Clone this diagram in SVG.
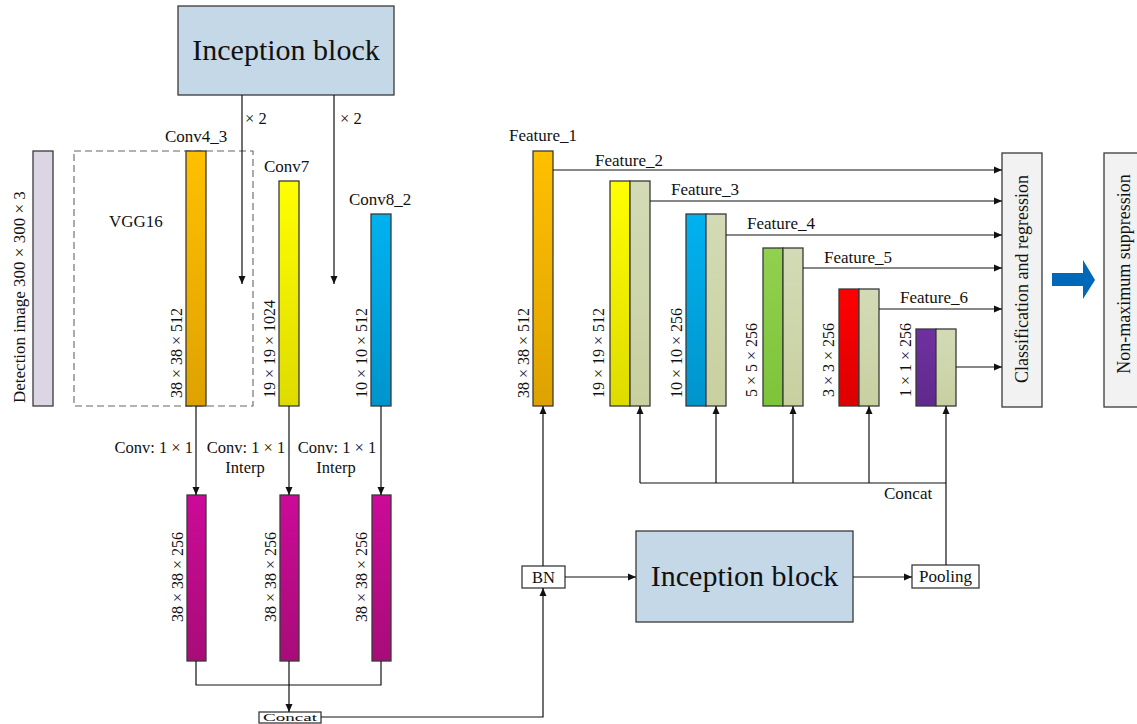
<svg xmlns="http://www.w3.org/2000/svg" width="1137" height="724" viewBox="0 0 1137 724">
<style>
text{font-family:"Liberation Serif","Times New Roman",serif;fill:#111}
.lbl{font-size:17px}
.sm{font-size:16.5px}
.rot{font-size:16px}
.big{font-size:30px}
.box{stroke:#3a3a3a;stroke-width:1.3}
.ln{stroke:#111;stroke-width:1.2;fill:none}
.arr{stroke:#111;stroke-width:1.2;fill:none;marker-end:url(#ah)}
</style>
<defs>
<marker id="ah" markerUnits="userSpaceOnUse" markerWidth="8" markerHeight="8" refX="8" refY="4" orient="auto">
<path d="M0,0.5 L8,4 L0,7.5 z" fill="#111"/>
</marker>
<linearGradient id="gOr" x1="0" y1="0" x2="0" y2="1"><stop offset="0" stop-color="#ffc000"/><stop offset="1" stop-color="#dea200"/></linearGradient>
<linearGradient id="gYe" x1="0" y1="0" x2="0" y2="1"><stop offset="0" stop-color="#ffff00"/><stop offset="1" stop-color="#dedb00"/></linearGradient>
<linearGradient id="gBl" x1="0" y1="0" x2="0" y2="1"><stop offset="0" stop-color="#00b2f0"/><stop offset="1" stop-color="#0094cc"/></linearGradient>
<linearGradient id="gMa" x1="0" y1="0" x2="0" y2="1"><stop offset="0" stop-color="#cc0a99"/><stop offset="1" stop-color="#a80c78"/></linearGradient>
<linearGradient id="gGr" x1="0" y1="0" x2="0" y2="1"><stop offset="0" stop-color="#92d050"/><stop offset="1" stop-color="#7cc43a"/></linearGradient>
<linearGradient id="gRe" x1="0" y1="0" x2="0" y2="1"><stop offset="0" stop-color="#ff0000"/><stop offset="1" stop-color="#dc0000"/></linearGradient>
<linearGradient id="gPu" x1="0" y1="0" x2="0" y2="1"><stop offset="0" stop-color="#7030a0"/><stop offset="1" stop-color="#5f2a8c"/></linearGradient>
<linearGradient id="gSa" x1="0" y1="0" x2="0" y2="1"><stop offset="0" stop-color="#d3dbb6"/><stop offset="1" stop-color="#c8d0a0"/></linearGradient>
</defs>
<rect width="1137" height="724" fill="#ffffff"/>

<g id="inception-top">
<rect class="box" x="178" y="6" width="216" height="89" fill="#c5d8e8"/>
<text class="big" x="286" y="60" text-anchor="middle">Inception block</text>
</g>

<g id="detection-image">
<rect class="box" x="33" y="151" width="20" height="255" fill="#dcd6e4"/>
<text x="25" y="403" font-size="17" transform="rotate(-90 25 403)">Detection image 300 × 300 × 3</text>
</g>

<g id="vgg16">
<rect x="74" y="151" width="179" height="255" fill="none" stroke="#666" stroke-width="1.1" stroke-dasharray="7,4"/>
<text class="lbl" x="109" y="227">VGG16</text>
</g>

<g id="conv4_3">
<text class="lbl" x="165" y="142">Conv4_3</text>
<rect class="box" x="186" y="151" width="20" height="255" fill="url(#gOr)"/>
<text class="rot" x="182" y="398" transform="rotate(-90 182 398)">38 × 38 × 512</text>
</g>

<g id="conv7">
<text class="lbl" x="264" y="172">Conv7</text>
<rect class="box" x="279" y="181" width="20" height="225" fill="url(#gYe)"/>
<text class="rot" x="275" y="398" transform="rotate(-90 275 398)">19 × 19 × 1024</text>
</g>

<g id="conv8_2">
<text class="lbl" x="349" y="205">Conv8_2</text>
<rect class="box" x="371" y="214" width="20" height="192" fill="url(#gBl)"/>
<text class="rot" x="367" y="398" transform="rotate(-90 367 398)">10 × 10 × 512</text>
</g>

<g id="m1">
<rect class="box" x="187" y="495" width="19" height="166" fill="url(#gMa)"/>
<text class="rot" x="183" y="622" transform="rotate(-90 183 622)">38 × 38 × 256</text>
</g>
<g id="m2">
<rect class="box" x="280" y="495" width="19" height="166" fill="url(#gMa)"/>
<text class="rot" x="276" y="622" transform="rotate(-90 276 622)">38 × 38 × 256</text>
</g>
<g id="m3">
<rect class="box" x="372" y="495" width="19" height="166" fill="url(#gMa)"/>
<text class="rot" x="367" y="622" transform="rotate(-90 367 622)">38 × 38 × 256</text>
</g>

<g id="concat-small">
<rect class="box" x="259" y="712" width="62" height="11" fill="#fff" stroke-width="1"/>
<text x="290" y="721" font-size="10" text-anchor="middle" textLength="54" lengthAdjust="spacingAndGlyphs">Concat</text>
</g>

<g id="bn">
<rect class="box" x="522" y="566" width="43" height="22" fill="#fff"/>
<text x="543.5" y="583" font-size="16.5" text-anchor="middle">BN</text>
</g>

<g id="inception-bottom">
<rect class="box" x="636" y="531" width="217" height="91" fill="#c5d8e8"/>
<text class="big" x="744.5" y="586" text-anchor="middle">Inception block</text>
</g>

<g id="pooling">
<rect class="box" x="912" y="565" width="67" height="23" fill="#fff"/>
<text x="945.5" y="582" font-size="17" text-anchor="middle">Pooling</text>
</g>

<g id="feature1">
<text class="lbl" x="509" y="141">Feature_1</text>
<rect class="box" x="533" y="151" width="20" height="255" fill="url(#gOr)"/>
<text class="rot" x="529" y="398" transform="rotate(-90 529 398)">38 × 38 × 512</text>
</g>
<g id="feature2">
<text class="lbl" x="595" y="166">Feature_2</text>
<rect class="box" x="610" y="181" width="20" height="225" fill="url(#gYe)"/>
<rect class="box" x="630" y="181" width="20" height="225" fill="url(#gSa)"/>
<text class="rot" x="604" y="398" transform="rotate(-90 604 398)">19 × 19 × 512</text>
</g>
<g id="feature3">
<text class="lbl" x="671" y="195">Feature_3</text>
<rect class="box" x="686" y="214" width="20" height="192" fill="url(#gBl)"/>
<rect class="box" x="706" y="214" width="20" height="192" fill="url(#gSa)"/>
<text class="rot" x="682" y="398" transform="rotate(-90 682 398)">10 × 10 × 256</text>
</g>
<g id="feature4">
<text class="lbl" x="747" y="229">Feature_4</text>
<rect class="box" x="763" y="248" width="20" height="158" fill="url(#gGr)"/>
<rect class="box" x="783" y="248" width="20" height="158" fill="url(#gSa)"/>
<text class="rot" x="757" y="397" transform="rotate(-90 757 397)">5 × 5 × 256</text>
</g>
<g id="feature5">
<text class="lbl" x="824" y="263">Feature_5</text>
<rect class="box" x="839" y="289" width="20" height="117" fill="url(#gRe)"/>
<rect class="box" x="859" y="289" width="20" height="117" fill="url(#gSa)"/>
<text class="rot" x="834" y="397" transform="rotate(-90 834 397)">3 × 3 × 256</text>
</g>
<g id="feature6">
<text class="lbl" x="900" y="303">Feature_6</text>
<rect class="box" x="916" y="329" width="20" height="77" fill="url(#gPu)"/>
<rect class="box" x="936" y="329" width="20" height="77" fill="url(#gSa)"/>
<text class="rot" x="911" y="397" transform="rotate(-90 911 397)">1 × 1 × 256</text>
</g>

<g id="classification">
<rect class="box" x="1002" y="153" width="40" height="254" fill="#f2f2f2"/>
<text x="1028" y="279" font-size="18" text-anchor="middle" transform="rotate(-90 1028 279)">Classification and regression</text>
</g>

<g id="nms">
<rect class="box" x="1104" y="153" width="45" height="254" fill="#f2f2f2"/>
<text x="1130" y="274" font-size="18" text-anchor="middle" transform="rotate(-90 1130 274)">Non-maximum suppression</text>
</g>

<g id="connectors">
<path class="arr" d="M242,95 V284"/>
<path class="arr" d="M334,95 V284"/>
<text class="sm" x="245" y="124">× 2</text>
<text class="sm" x="340" y="124">× 2</text>

<path class="arr" d="M196,406 V495"/>
<path class="arr" d="M289,406 V495"/>
<path class="arr" d="M381,406 V495"/>
<text class="sm" x="193" y="453" text-anchor="end">Conv: 1 × 1</text>
<text class="sm" x="246" y="453" text-anchor="middle">Conv: 1 × 1</text>
<text class="sm" x="245" y="473" text-anchor="middle">Interp</text>
<text class="sm" x="337" y="453" text-anchor="middle">Conv: 1 × 1</text>
<text class="sm" x="336" y="473" text-anchor="middle">Interp</text>

<path class="ln" d="M196,661 V685 H381 V661"/>
<path class="arr" d="M289,661 V712"/>
<path class="arr" d="M321,717 H543 V588"/>
<path class="arr" d="M543,566 V406"/>
<path class="arr" d="M565,577 H636"/>
<path class="arr" d="M853,577 H912"/>

<path class="ln" d="M640,483 H946"/>
<path class="arr" d="M946,565 V406"/>
<path class="arr" d="M640,483 V406"/>
<path class="arr" d="M716,483 V406"/>
<path class="arr" d="M793,483 V406"/>
<path class="arr" d="M869,483 V406"/>
<text class="lbl" x="884" y="499">Concat</text>

<path class="arr" d="M553,170 H1002"/>
<path class="arr" d="M650,201 H1002"/>
<path class="arr" d="M726,235 H1002"/>
<path class="arr" d="M803,268 H1002"/>
<path class="arr" d="M879,309 H1002"/>
<path class="arr" d="M956,367 H1002"/>

<path d="M1052,273 H1083 V260 L1095,280 L1083,299 V286 H1052 z" fill="#0068b8"/>
</g>
</svg>
